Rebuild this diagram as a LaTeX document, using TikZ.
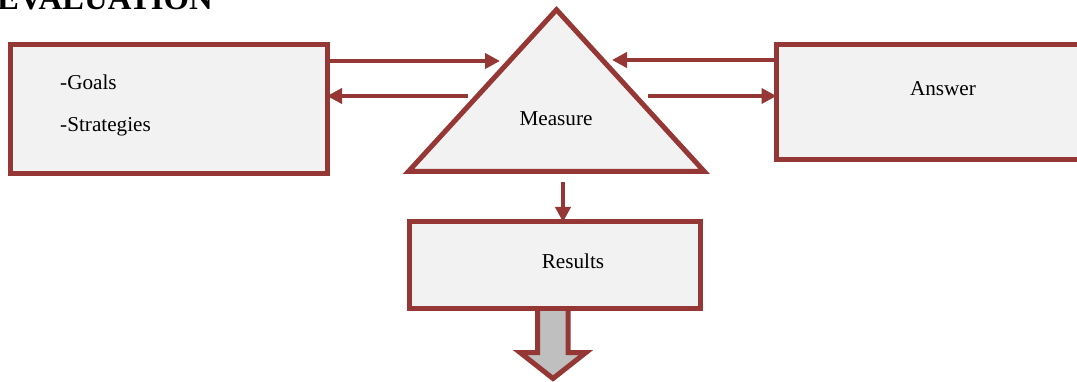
\documentclass[tikz,border=0pt]{standalone}
\usepackage{fontspec}
\setmainfont{Liberation Serif}
\usetikzlibrary{arrows.meta}
\definecolor{brd}{HTML}{953735}
\definecolor{boxfill}{HTML}{F2F2F2}
\definecolor{arrfill}{HTML}{BFBFBF}
\tikzset{
  box/.style={draw=brd, fill=boxfill, line width=5pt, rectangle, inner sep=0pt, outer sep=0pt, line join=miter},
  lbl/.style={inner sep=0pt, font=\fontsize{21.2}{24}\selectfont, anchor=base},
  arr/.style={draw=brd, line width=4.5pt, -{Triangle[length=15pt,width=15pt]}},
}
\begin{document}
\begin{tikzpicture}[x=1pt,y=-1pt]
\useasboundingbox (0,0) rectangle (1077,382);
\clip (0,0) rectangle (1077,382);
% title
\node[inner sep=0pt, anchor=base west, font=\fontsize{32.8}{36}\selectfont\bfseries] (title) at (-3,10) {EVALUATION};
% left box
\node[box, minimum width=316.5pt, minimum height=129.5pt] (lbox) at (168.75,109.25) {};
\node[lbl, anchor=base west] (goals) at (60,90) {-Goals};
\node[lbl, anchor=base west] (strat) at (60,132) {-Strategies};
% right box
\node[box, minimum width=330pt, minimum height=115pt] (rbox) at (941.5,102) {};
\node[lbl] (answer) at (943,96) {Answer};
% triangle
\coordinate (tapex) at (556.5,9.7);
\coordinate (tleft) at (408.4,171.5);
\coordinate (tright) at (704.3,171.5);
\filldraw[draw=brd, fill=boxfill, line width=5pt, line join=miter] (tapex) -- (tleft) -- (tright) -- cycle;
\node[lbl] (measure) at (556,126) {Measure};
% arrow end points on/near the triangle
\coordinate (tinL) at (500,61);
\coordinate (toutL) at (468,96);
\coordinate (tinR) at (612,60);
\coordinate (toutR) at (648,96);
\coordinate (tdown) at (563,182);
% arrows
\draw[arr] (lbox.east |- tinL) -- (tinL);
\draw[arr] (toutL) -- (lbox.east |- toutL);
\draw[arr] (rbox.west |- tinR) -- (tinR);
\draw[arr] (toutR) -- (rbox.west |- toutR);
% big gray arrow
\coordinate (ga1) at (537.5,308.5);
\filldraw[draw=brd, fill=arrfill, line width=5pt, line join=miter]
  (ga1) -- (537.5,352.5) -- (520,352.5) -- (553,378.5) -- (586,352.5) -- (568,352.5) -- (568,308.5) -- cycle;
% results box
\node[box, minimum width=291pt, minimum height=86.5pt] (res) at (555,265.25) {};
\node[lbl] (results) at (573,269) {Results};
\draw[arr] (tdown) -- (tdown |- res.north);
\end{tikzpicture}
\end{document}
